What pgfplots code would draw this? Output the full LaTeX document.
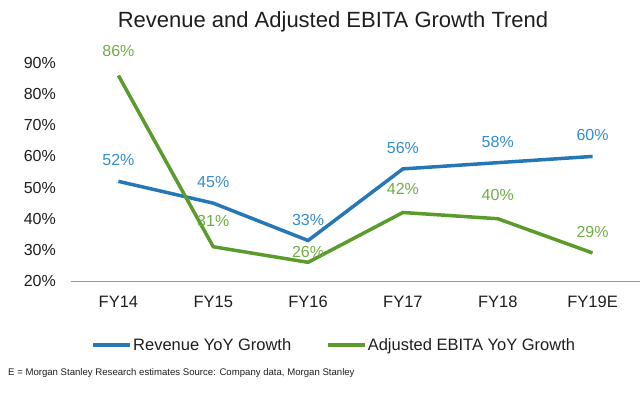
\documentclass[border=0pt]{standalone}
\usepackage{pgfplots}
\pgfplotsset{compat=1.18}
\usepackage{fontspec}
\setmainfont{Liberation Sans}
\definecolor{revline}{RGB}{37,120,181}
\definecolor{revlab}{RGB}{52,140,205}
\definecolor{ebline}{RGB}{91,155,43}
\definecolor{eblab}{RGB}{112,173,71}
\definecolor{txt}{RGB}{30,30,30}
\begin{document}
\begin{tikzpicture}
\useasboundingbox (-71pt,-111pt) rectangle (570pt,281pt);
\begin{axis}[
  at={(0pt,0pt)}, anchor=south west,
  scale only axis, width=569pt, height=218pt,
  xmin=-0.5, xmax=5.5, ymin=20, ymax=90,
  clip=false,
  /pgf/number format/assume math mode=true,
  axis x line*=bottom, axis y line*=left,
  x axis line style={draw=gray!80, line width=0.8pt, -},
  y axis line style={draw=none},
  major tick length=0pt,
  xtick={0,...,5},
  xticklabels={FY14,FY15,FY16,FY17,FY18,FY19E},
  xticklabel style={anchor=center, yshift=-21pt, font=\fontsize{16.5}{18}\selectfont, text=txt},
  ytick={20,30,...,90},
  yticklabel={\pgfmathprintnumber{\tick}\%},
  yticklabel style={anchor=east, inner sep=0pt, xshift=-15pt, font=\fontsize{16}{18}\selectfont, text=txt},
  legend columns=2,
  legend style={draw=none, fill=none, at={(0.462,-0.2936)}, anchor=center,
    font=\fontsize{16.5}{18}\selectfont, text=txt,
    /tikz/every even column/.append style={column sep=34pt},
    /tikz/every node/.append style={inner sep=1pt}},
  legend image code/.code={\draw[#1] (0pt,0pt) -- (37pt,0pt);},
  nodes near coords={\pgfmathprintnumber{\pgfplotspointmeta}\%},
  visualization depends on={value \thisrow{s}\as\myshift},
  every node near coord/.append style={anchor=center, yshift=\myshift pt, font=\fontsize{16}{18}\selectfont},
]
\addplot[revline, line width=3.5pt, mark=none, every node near coord/.append style={text=revlab}]
  table[x=x, y=y] {
x y s
0 52 21
1 45 21
2 33 21
3 56 21
4 58 21
5 60 21
};
\addlegendentry{Revenue YoY Growth}
\addplot[ebline, line width=3.5pt, mark=none, every node near coord/.append style={text=eblab}]
  table[x=x, y=y] {
x y s
0 86 24
1 31 26
2 26 10
3 42 24
4 40 24
5 29 21
};
\addlegendentry{Adjusted EBITA YoY Growth}
\end{axis}
\node[text=txt, font=\fontsize{22}{26}\selectfont] at (262pt,259pt) {Revenue and Adjusted EBITA Growth Trend};
\node[anchor=west, text=txt, font=\fontsize{9.6}{11}\selectfont, inner sep=0pt] at (-63pt,-92pt) {E = Morgan Stanley Research estimates Source: Company data, Morgan Stanley};
\end{tikzpicture}
\end{document}
